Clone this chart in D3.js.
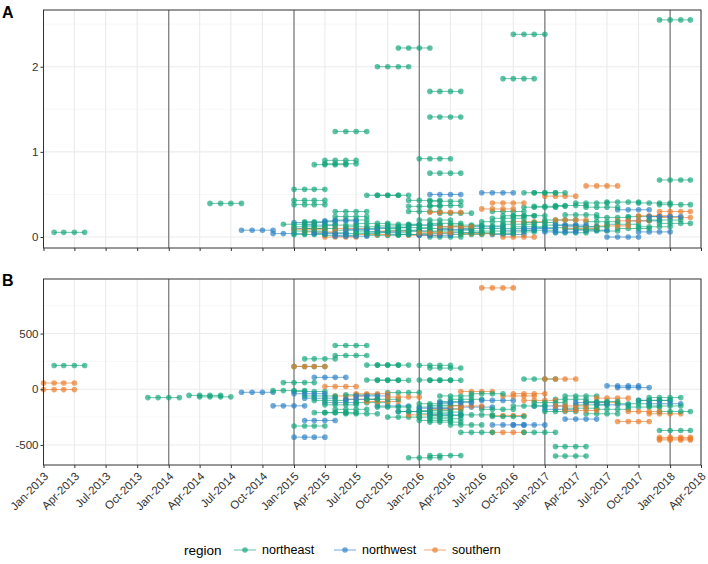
<!DOCTYPE html>
<html><head><meta charset="utf-8">
<script src="https://cdn.jsdelivr.net/npm/d3@7"></script>
<style>body{margin:0;background:#fff;font-family:Arial,"Liberation Sans",sans-serif}</style>
</head><body>
<script>
// ---- Data: each segment = start month + value, drawn as 4 monthly points ----
const regions = ["northeast","northwest","southern"];
const colors = ["#12a57a","#2a80c6","#ea7a2a"];
const xTickStart = "2013-01", xTickEnd = "2018-04";
const yTicksA = [0,1,2];
const yTicksB = [-500,0,500];

// Panel A
const neStartA = ["2013-02","2014-05","2014-12","2015-01","2015-01","2015-01","2015-03","2015-04","2015-04","2015-05",
"2015-05","2015-05","2015-05","2015-09","2015-11","2016-02","2016-02","2016-01","2016-02","2015-08",
"2015-09","2016-09","2016-10","2016-11","2016-12","2017-12","2017-12","2015-12","2015-12","2015-12",
"2016-02","2016-02","2016-03","2016-11","2016-12","2017-04","2017-07","2017-10","2017-12","2017-05",
"2017-02","2016-08","2016-09","2015-01","2015-01","2015-01","2015-02","2015-02","2015-03","2015-04",
"2015-04","2015-05","2015-06","2015-06","2015-07","2015-07","2015-08","2015-08","2015-09","2015-09",
"2015-10","2015-10","2015-11","2015-11","2015-12","2015-12","2016-01","2016-01","2016-01","2016-02",
"2016-02","2016-02","2016-03","2016-03","2016-04","2016-04","2016-05","2016-05","2016-06","2016-06",
"2016-07","2016-07","2016-08","2016-08","2016-09","2016-09","2016-10","2016-10","2016-11","2016-11",
"2016-12","2017-01","2017-01","2017-02","2017-03","2017-03","2017-04","2017-05","2017-05","2017-06",
"2017-07","2017-08","2017-09","2017-10","2017-11","2017-12"];
const neValueA = [0.055,0.395,0.15,0.56,0.43,0.38,0.85,0.86,0.90,1.24,
0.30,0.24,0.20,2.00,2.22,1.71,1.41,0.92,0.75,0.49,
0.49,1.86,2.38,0.52,0.52,2.55,0.67,0.43,0.36,0.30,
0.42,0.37,0.28,0.35,0.36,0.40,0.41,0.40,0.38,0.35,
0.37,0.30,0.25,0.12,0.07,0.03,0.18,0.10,0.05,0.14,
0.02,0.08,0.12,0.04,0.16,0.06,0.10,0.02,0.13,0.05,
0.08,0.15,0.11,0.03,0.07,0.14,0.20,0.10,0.04,0.16,
0.06,0.00,0.12,0.08,0.03,0.14,0.10,0.05,0.07,0.13,
0.04,0.18,0.10,0.22,0.15,0.06,0.25,0.12,0.08,0.17,
0.11,0.20,0.14,0.05,0.26,0.09,0.12,0.18,0.07,0.23,
0.15,0.10,0.24,0.12,0.20,0.16];
const nwStartA = ["2014-08","2014-11","2015-01","2015-01","2015-02","2015-03","2015-04","2015-05","2015-06","2015-08",
"2015-09","2015-10","2015-11","2015-12","2016-01","2016-02","2016-03","2016-04","2016-06","2016-07",
"2016-08","2016-09","2016-11","2017-01","2017-02","2017-03","2017-04","2017-07","2017-08","2017-09",
"2017-10","2017-11"];
const nwValueA = [0.08,0.04,0.17,0.10,0.14,0.04,0.19,0.01,0.09,0.06,
0.11,0.03,0.07,0.14,0.02,0.50,0.09,0.05,0.12,0.52,
0.03,0.08,0.10,0.06,0.14,0.12,0.08,0.00,0.32,0.19,
0.06,0.24];
const soStartA = ["2015-01","2015-02","2015-04","2015-05","2015-07","2015-09","2015-12","2016-01","2016-02","2016-03",
"2016-05","2016-07","2016-08","2016-09","2016-10","2017-01","2017-02","2017-03","2017-05","2017-06",
"2017-08","2017-10","2017-12","2017-12"];
const soValueA = [0.09,0.06,0.00,0.10,0.03,0.07,0.02,0.05,0.29,0.12,
0.04,0.33,0.40,0.00,0.18,0.48,0.20,0.10,0.60,0.13,
0.19,0.25,0.30,0.23];

// Panel B
const neStartB = ["2013-02","2013-11","2014-03","2014-04","2014-11","2014-12","2015-01","2015-02","2015-05","2015-05",
"2015-03","2015-01","2015-08","2015-09","2016-01","2016-02","2015-08","2015-09","2016-01","2016-02",
"2015-12","2016-02","2017-02","2017-02","2017-12","2017-12","2017-11","2016-11","2016-05","2016-11",
"2016-08","2015-01","2015-02","2015-03","2015-04","2015-05","2015-06","2015-06","2015-07","2015-08",
"2015-09","2015-10","2015-11","2016-01","2016-01","2016-01","2016-01","2016-01","2016-01","2016-02",
"2016-02","2016-02","2016-02","2016-02","2016-02","2016-03","2016-04","2016-06","2016-07","2016-10",
"2016-12","2017-01","2017-02","2017-03","2017-04","2017-05","2017-06","2017-08","2017-09","2017-10",
"2017-11","2016-03","2016-04","2016-05","2015-04","2015-10","2017-03","2017-05"];
const neValueB = [214,-75,-55,-68,-12,60,205,273,303,393,
-210,-330,217,217,215,190,83,80,83,80,
-615,-595,-515,-600,-370,-200,-75,92,-387,-387,
-245,-20,-60,-100,-140,-180,-50,-220,-120,-90,
-160,-30,-200,-130,-160,-190,-220,-250,-280,-145,
-175,-205,-235,-265,-295,-110,-320,-40,-180,-150,
-120,-200,-90,-170,-140,-110,-180,-130,-160,-100,
-150,-60,-90,-230,-210,-250,-60,-220];
const nwStartB = ["2014-08","2014-11","2015-02","2015-01","2015-03","2015-01","2015-02","2015-04","2015-06","2015-07",
"2015-09","2015-11","2016-01","2016-02","2016-03","2016-05","2016-07","2016-08","2016-10","2016-12",
"2017-01","2017-03","2017-04","2017-06","2017-07","2017-08","2017-10","2017-11"];
const nwValueB = [-27,-149,-280,-430,107,-40,-80,-120,-90,-60,
-150,-200,-170,-230,-120,-160,-100,-320,-320,-150,
-180,-268,-120,-140,30,15,-100,-130];
const soStartB = ["2013-01","2013-01","2015-01","2015-04","2015-05","2015-06","2015-07","2015-08","2015-10","2015-12",
"2016-02","2016-04","2016-05","2016-07","2016-08","2016-08","2016-09","2016-10","2016-11","2017-01",
"2017-02","2017-03","2017-05","2017-06","2017-08","2017-09","2017-11","2017-12","2017-12","2017-12"];
const soValueB = [56,-3,205,25,-60,-90,-40,-110,-70,-230,
-180,-150,-20,910,-387,-236,-60,-40,-100,92,
-150,-190,-120,-80,-289,-200,-220,-432,-455,-445];

const pointsPerSegment = 4;

// ---- Layout ----
const W = 708, H = 564;
const left = 43.5, right = 701;
const panelA = {top: 10, bottom: 248, domain: [-0.129, 2.666], ticks: yTicksA, minor: [0.5,1.5,2.5], label: "A", labelY: 18};
const panelB = {top: 279, bottom: 465, domain: [-680, 990], ticks: yTicksB, minor: [-250,250,750], label: "B", labelY: 286};

const parse = d3.timeParse("%Y-%m");
const x = d3.scaleTime().domain([parse(xTickStart), parse(xTickEnd)]).range([left, right]);
const xTicks = d3.timeMonth.every(3).range(parse(xTickStart), d3.timeMonth.offset(parse(xTickEnd),1));
const yearLines = d3.timeYear.range(parse("2014-01"), d3.timeMonth.offset(parse(xTickEnd),1));
const color = d3.scaleOrdinal().domain(regions).range(colors);

const svg = d3.select("body").append("svg").attr("width", W).attr("height", H);

function buildSegs(region, starts, vals) {
  return starts.map((st, i) => {
    const s = parse(st);
    const pts = d3.range(pointsPerSegment).map(k => ({date: d3.timeMonth.offset(s, k), value: vals[i]}));
    return {region, pts};
  });
}

function drawPanel(p, segs, showLabels) {
  const y = d3.scaleLinear().domain(p.domain).range([p.bottom, p.top]);
  const g = svg.append("g");
  g.selectAll(".minor").data(p.minor).join("line")
    .attr("x1", left).attr("x2", right).attr("y1", d => y(d)).attr("y2", d => y(d))
    .attr("stroke", "#f2f2f2").attr("stroke-width", 0.6);
  g.selectAll(".major").data(p.ticks).join("line")
    .attr("x1", left).attr("x2", right).attr("y1", d => y(d)).attr("y2", d => y(d))
    .attr("stroke", "#ebebeb").attr("stroke-width", 1.1);
  g.selectAll(".vmajor").data(xTicks).join("line")
    .attr("x1", d => x(d)).attr("x2", d => x(d)).attr("y1", p.top).attr("y2", p.bottom)
    .attr("stroke", "#ebebeb").attr("stroke-width", 1.1);
  g.selectAll(".yearline").data(yearLines).join("line")
    .attr("x1", d => x(d)).attr("x2", d => x(d)).attr("y1", p.top).attr("y2", p.bottom)
    .attr("stroke", "#6b6b6b").attr("stroke-width", 1.1);
  const line = d3.line().x(d => x(d.date)).y(d => y(d.value));
  const sg = g.append("g");
  segs.forEach(s => {
    sg.append("path").attr("d", line(s.pts)).attr("fill", "none")
      .attr("stroke", color(s.region)).attr("stroke-width", 1).attr("stroke-opacity", 0.65);
    sg.selectAll(null).data(s.pts).enter().append("circle")
      .attr("cx", d => x(d.date)).attr("cy", d => y(d.value)).attr("r", 2.8)
      .attr("fill", color(s.region)).attr("fill-opacity", 0.68);
  });
  g.append("rect").attr("x", left).attr("y", p.top).attr("width", right-left).attr("height", p.bottom-p.top)
    .attr("fill", "none").attr("stroke", "#333").attr("stroke-width", 1);
  const ya = g.append("g").attr("transform", `translate(${left},0)`)
    .call(d3.axisLeft(y).tickValues(p.ticks).tickSize(3).tickPadding(2).tickFormat(d => String(d)));
  ya.select(".domain").remove();
  ya.selectAll("line").attr("stroke", "#333");
  ya.selectAll("text").attr("font-size", 11.5).attr("fill", "#333").attr("font-family", "Arial, Liberation Sans, sans-serif");
  const xa = g.append("g").attr("transform", `translate(0,${p.bottom})`)
    .call(d3.axisBottom(x).tickValues(xTicks).tickSize(3).tickFormat(showLabels ? d3.timeFormat("%b-%Y") : ""));
  xa.select(".domain").remove();
  xa.selectAll("line").attr("stroke", "#333");
  if (showLabels) {
    xa.selectAll("text").attr("font-size", 11.5).attr("fill", "#333")
      .attr("font-family", "Arial, Liberation Sans, sans-serif")
      .attr("text-anchor", "end").attr("dy", "0.35em")
      .attr("transform", "translate(-2,5) rotate(-45)");
  }
  svg.append("text").attr("x", 2).attr("y", p.labelY).text(p.label)
    .attr("font-size", 16).attr("font-weight", "bold").attr("fill", "#000");
}

const segsA = [].concat(buildSegs("northeast", neStartA, neValueA), buildSegs("northwest", nwStartA, nwValueA), buildSegs("southern", soStartA, soValueA));
const segsB = [].concat(buildSegs("northeast", neStartB, neValueB), buildSegs("northwest", nwStartB, nwValueB), buildSegs("southern", soStartB, soValueB));
// interleave drawing order so no region fully covers another
const order = (arr) => arr.map((d, i) => ({d, k: (i * 7919) % arr.length})).sort((a, b) => a.k - b.k).map(o => o.d);
drawPanel(panelA, order(segsA), false);
drawPanel(panelB, order(segsB), true);

const lg = svg.append("g").attr("font-family", "Arial, Liberation Sans, sans-serif");
const ly = 550;
lg.append("text").attr("x", 184).attr("y", ly).attr("dy", "0.35em").attr("font-size", 13.5).attr("fill", "#000").text("region");
const lx = [234, 334, 424];
regions.forEach((r, i) => {
  lg.append("line").attr("x1", lx[i]).attr("x2", lx[i] + 22).attr("y1", ly).attr("y2", ly)
    .attr("stroke", color(r)).attr("stroke-opacity", 0.65);
  lg.append("circle").attr("cx", lx[i] + 11).attr("cy", ly).attr("r", 2.8).attr("fill", color(r)).attr("fill-opacity", 0.68);
  lg.append("text").attr("x", lx[i] + 28).attr("y", ly).attr("dy", "0.35em").attr("font-size", 12.5).attr("fill", "#000").text(r);
});
</script>
</body></html>
